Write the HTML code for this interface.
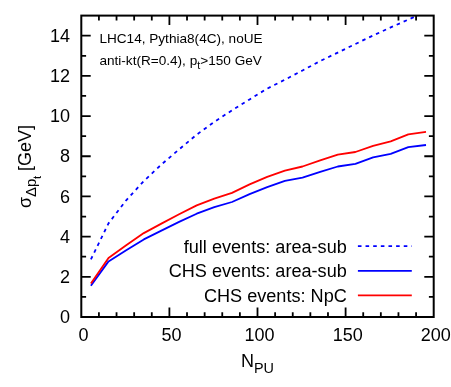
<!DOCTYPE html>
<html><head><meta charset="utf-8"><title>plot</title>
<style>
html,body{margin:0;padding:0;background:#fff;}
body{width:451px;height:387px;overflow:hidden;}
svg{display:block;will-change:transform;}
text{font-family:"Liberation Sans",sans-serif;fill:#000;}
</style></head><body>
<svg width="451" height="387" viewBox="0 0 451 387">
<rect x="0" y="0" width="451" height="387" fill="#fff"/>
<defs><clipPath id="c"><rect x="81.3" y="15.6" width="352.4" height="301.4"/></clipPath></defs>
<g clip-path="url(#c)" fill="none" stroke-linejoin="round">
<polyline points="90.9,259.4 108.5,223.4 126.2,200.3 143.8,181.1 161.4,164.5 179.1,149.4 196.7,134.6 214.3,121.9 232.0,110.3 249.6,99.4 267.2,88.6 284.9,79.7 302.5,70.5 320.2,61.0 337.8,52.6 355.4,44.0 373.1,35.5 390.7,27.4 408.3,19.6 426.0,11.8" stroke="#0000ff" stroke-width="1.8" stroke-dasharray="3.5 4.083" stroke-dashoffset="0"/>
<polyline points="90.9,285.8 108.5,261.4 126.2,250.2 143.8,239.4 161.4,230.6 179.1,221.9 196.7,213.7 214.3,207.1 232.0,202.0 249.6,194.1 267.2,187.2 284.9,180.9 302.5,177.6 320.2,171.9 337.8,166.5 355.4,163.8 373.1,157.3 390.7,153.8 408.3,147.1 426.0,145.0" stroke="#0000ff" stroke-width="1.8" stroke-linecap="butt"/>
<polyline points="90.9,283.6 108.5,258.0 126.2,245.3 143.8,233.1 161.4,223.6 179.1,214.3 196.7,205.4 214.3,198.6 232.0,192.9 249.6,184.4 267.2,176.9 284.9,170.7 302.5,166.5 320.2,160.3 337.8,154.6 355.4,152.0 373.1,145.8 390.7,141.4 408.3,134.3 426.0,131.9" stroke="#ff0000" stroke-width="1.8" stroke-linecap="butt"/>
</g>
<g fill="none">
<path d="M357.9 246.1 H411.8" stroke="#0000ff" stroke-width="1.8" stroke-dasharray="3.6 4.04"/>
<path d="M357.9 270.9 H411.8" stroke="#0000ff" stroke-width="1.8"/>
<path d="M357.9 295.3 H411.8" stroke="#ff0000" stroke-width="1.8"/>
</g>
<path d="M98.92 317.0 v-4.8 M98.92 15.6 v4.8 M116.54 317.0 v-4.8 M116.54 15.6 v4.8 M134.16 317.0 v-4.8 M134.16 15.6 v4.8 M151.78 317.0 v-4.8 M151.78 15.6 v4.8 M169.40 317.0 v-9.4 M169.40 15.6 v9.4 M187.02 317.0 v-4.8 M187.02 15.6 v4.8 M204.64 317.0 v-4.8 M204.64 15.6 v4.8 M222.26 317.0 v-4.8 M222.26 15.6 v4.8 M239.88 317.0 v-4.8 M239.88 15.6 v4.8 M257.50 317.0 v-9.4 M257.50 15.6 v9.4 M275.12 317.0 v-4.8 M275.12 15.6 v4.8 M292.74 317.0 v-4.8 M292.74 15.6 v4.8 M310.36 317.0 v-4.8 M310.36 15.6 v4.8 M327.98 317.0 v-4.8 M327.98 15.6 v4.8 M345.60 317.0 v-9.4 M345.60 15.6 v9.4 M363.22 317.0 v-4.8 M363.22 15.6 v4.8 M380.84 317.0 v-4.8 M380.84 15.6 v4.8 M398.46 317.0 v-4.8 M398.46 15.6 v4.8 M416.08 317.0 v-4.8 M416.08 15.6 v4.8 M81.3 296.91 h4.8 M433.7 296.91 h-4.8 M81.3 276.81 h9.4 M433.7 276.81 h-9.4 M81.3 256.72 h4.8 M433.7 256.72 h-4.8 M81.3 236.63 h9.4 M433.7 236.63 h-9.4 M81.3 216.53 h4.8 M433.7 216.53 h-4.8 M81.3 196.44 h9.4 M433.7 196.44 h-9.4 M81.3 176.35 h4.8 M433.7 176.35 h-4.8 M81.3 156.25 h9.4 M433.7 156.25 h-9.4 M81.3 136.16 h4.8 M433.7 136.16 h-4.8 M81.3 116.07 h9.4 M433.7 116.07 h-9.4 M81.3 95.97 h4.8 M433.7 95.97 h-4.8 M81.3 75.88 h9.4 M433.7 75.88 h-9.4 M81.3 55.79 h4.8 M433.7 55.79 h-4.8 M81.3 35.69 h9.4 M433.7 35.69 h-9.4" stroke="#000" stroke-width="1.8" fill="none"/>
<rect x="81.3" y="15.6" width="352.4" height="301.4" fill="none" stroke="#000" stroke-width="2"/>
<g font-size="18px"><text x="70" y="323.20" text-anchor="end">0</text><text x="70" y="283.01" text-anchor="end">2</text><text x="70" y="242.83" text-anchor="end">4</text><text x="70" y="202.64" text-anchor="end">6</text><text x="70" y="162.45" text-anchor="end">8</text><text x="70" y="122.27" text-anchor="end">10</text><text x="70" y="82.08" text-anchor="end">12</text><text x="70" y="41.89" text-anchor="end">14</text><text x="83.40" y="341.3" text-anchor="middle">0</text><text x="171.50" y="341.3" text-anchor="middle">50</text><text x="259.60" y="341.3" text-anchor="middle">100</text><text x="347.70" y="341.3" text-anchor="middle">150</text><text x="435.80" y="341.3" text-anchor="middle">200</text>
<text x="346.8" y="252.6" text-anchor="end" font-size="18.12px">full events: area-sub</text>
<text x="346.8" y="277.2" text-anchor="end" font-size="18.12px">CHS events: area-sub</text>
<text x="346.8" y="301.8" text-anchor="end" font-size="18.12px">CHS events: NpC</text>
<text x="241" y="366.6">N<tspan font-size="14.4px" dy="6">PU</tspan></text>
<text transform="translate(30.5,208.1) rotate(-90)">σ<tspan font-size="15px" dy="5.5">Δp</tspan><tspan font-size="11.5px" dy="5.2" dx="-0.3">t</tspan><tspan dy="-10.7" dx="-0.4"> [GeV]</tspan></text>
</g>
<g font-size="13.6px">
<text x="99.4" y="42.6">LHC14, Pythia8(4C), noUE</text>
<text x="99.4" y="65.2">anti-kt(R=0.4), p<tspan font-size="10.8px" dy="4">t</tspan><tspan dy="-4">&gt;150 GeV</tspan></text>
</g>
</svg>
</body></html>
